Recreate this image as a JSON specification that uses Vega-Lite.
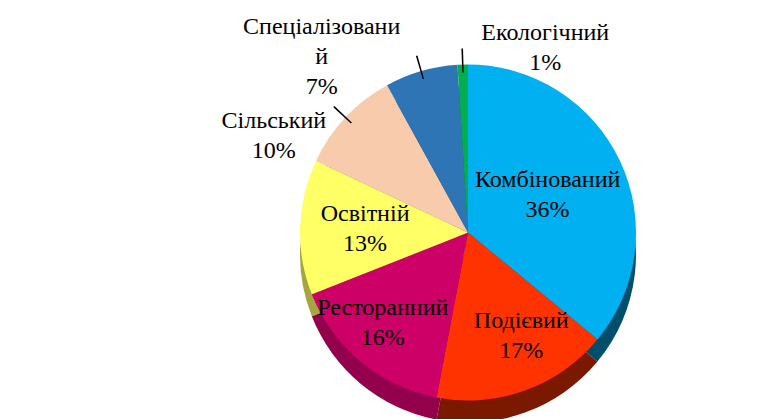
{
  "$schema": "https://vega.github.io/schema/vega-lite/v6.json",
  "width": 776,
  "height": 419,
  "autosize": {"type": "fit", "contains": "padding"},
  "padding": {"left": 160, "right": 0, "top": 37, "bottom": 0},
  "background": "white",
  "config": {"view": {"stroke": null}, "text": {"font": "Liberation Serif", "fontSize": 24, "lineHeight": 30, "lineBreak": "\n", "color": "#000000", "align": "center", "baseline": "middle"}},
  "data": {
    "values": [
      {"cat": "Комбінований", "value": 36},
      {"cat": "Подієвий", "value": 17},
      {"cat": "Ресторанний", "value": 16},
      {"cat": "Освітній", "value": 13},
      {"cat": "Сільський", "value": 10},
      {"cat": "Спеціалізований", "value": 7},
      {"cat": "Екологічний", "value": 1}
    ]
  },
  "transform": [
    {"stack": "value", "groupby": [], "as": ["v0", "v1"]},
    {"calculate": "(datum.v0 + datum.v1) / 2", "as": "mid"},
    {"calculate": "datum.mid - 0.07", "as": "lo"},
    {"calculate": "datum.mid + 0.07", "as": "hi"},
    {"calculate": "datum.cat == 'Спеціалізований' ? 'Спеціалізовани\\nй\\n' + datum.value + '%' : datum.cat + '\\n' + datum.value + '%'", "as": "label"}
  ],
  "layer": [
    {
      "mark": {"type": "arc", "outerRadius": 168, "yOffset": 22},
      "encoding": {
        "theta": {"field": "v0", "type": "quantitative", "scale": {"type": "linear", "domain": [0, 100], "range": [0, 6.283185307], "zero": false, "nice": false}},
        "theta2": {"field": "v1"},
        "color": {
          "field": "cat", "type": "nominal", "legend": null,
          "scale": {
            "domain": ["Комбінований", "Подієвий", "Ресторанний", "Освітній", "Сільський", "Спеціалізований", "Екологічний"],
            "range": ["#004E69", "#7A1800", "#93004C", "#A6A63E", "#A68068", "#1F4E79", "#00703A"]
          }
        }
      }
    },
    {
      "mark": {"type": "arc", "outerRadius": 168},
      "encoding": {
        "theta": {"field": "v0", "type": "quantitative"},
        "theta2": {"field": "v1"},
        "fill": {
          "field": "cat", "type": "nominal", "legend": null,
          "scale": {
            "domain": ["Комбінований", "Подієвий", "Ресторанний", "Освітній", "Сільський", "Спеціалізований", "Екологічний"],
            "range": ["#00B0F0", "#FF3300", "#CC0066", "#FFFF66", "#F8CBAD", "#2E75B6", "#00B050"]
          }
        }
      }
    },
    {
      "transform": [{"filter": "indexof(['Сільський','Спеціалізований','Екологічний'], datum.cat) >= 0"}],
      "mark": {"type": "arc", "innerRadius": 160, "outerRadius": 184, "color": "#000000"},
      "encoding": {
        "theta": {"field": "lo", "type": "quantitative"},
        "theta2": {"field": "hi"}
      }
    },
    {
      "transform": [{"filter": "datum.cat == 'Комбінований'"}],
      "mark": {"type": "text", "radius": 88, "dy": -15},
      "encoding": {
        "theta": {"field": "mid", "type": "quantitative", "stack": null},
        "text": {"field": "label", "type": "nominal"}
      }
    },
    {
      "transform": [{"filter": "datum.cat == 'Освітній'"}],
      "mark": {"type": "text", "radius": 103, "dy": -15},
      "encoding": {
        "theta": {"field": "mid", "type": "quantitative", "stack": null},
        "text": {"field": "label", "type": "nominal"}
      }
    },
    {
      "transform": [{"filter": "datum.cat == 'Подієвий'"}],
      "mark": {"type": "text", "radius": 110, "dx": 16, "dy": -15},
      "encoding": {
        "theta": {"field": "mid", "type": "quantitative", "stack": null},
        "text": {"field": "label", "type": "nominal"}
      }
    },
    {
      "transform": [{"filter": "datum.cat == 'Ресторанний'"}],
      "mark": {"type": "text", "radius": 118, "dx": -10, "dy": -15},
      "encoding": {
        "theta": {"field": "mid", "type": "quantitative", "stack": null},
        "text": {"field": "label", "type": "nominal"}
      }
    },
    {
      "transform": [{"filter": "datum.cat == 'Сільський'"}],
      "mark": {"type": "text", "radius": 184, "dx": -60, "dy": 14},
      "encoding": {
        "theta": {"field": "mid", "type": "quantitative", "stack": null},
        "text": {"field": "label", "type": "nominal"}
      }
    },
    {
      "transform": [{"filter": "datum.cat == 'Спеціалізований'"}],
      "mark": {"type": "text", "radius": 184, "dx": -95, "dy": -29},
      "encoding": {
        "theta": {"field": "mid", "type": "quantitative", "stack": null},
        "text": {"field": "label", "type": "nominal"}
      }
    },
    {
      "transform": [{"filter": "datum.cat == 'Екологічний'"}],
      "mark": {"type": "text", "radius": 184, "dx": 83, "dy": -16},
      "encoding": {
        "theta": {"field": "mid", "type": "quantitative", "stack": null},
        "text": {"field": "label", "type": "nominal"}
      }
    }
  ],
  "resolve": {"scale": {"color": "independent", "fill": "independent"}}
}
